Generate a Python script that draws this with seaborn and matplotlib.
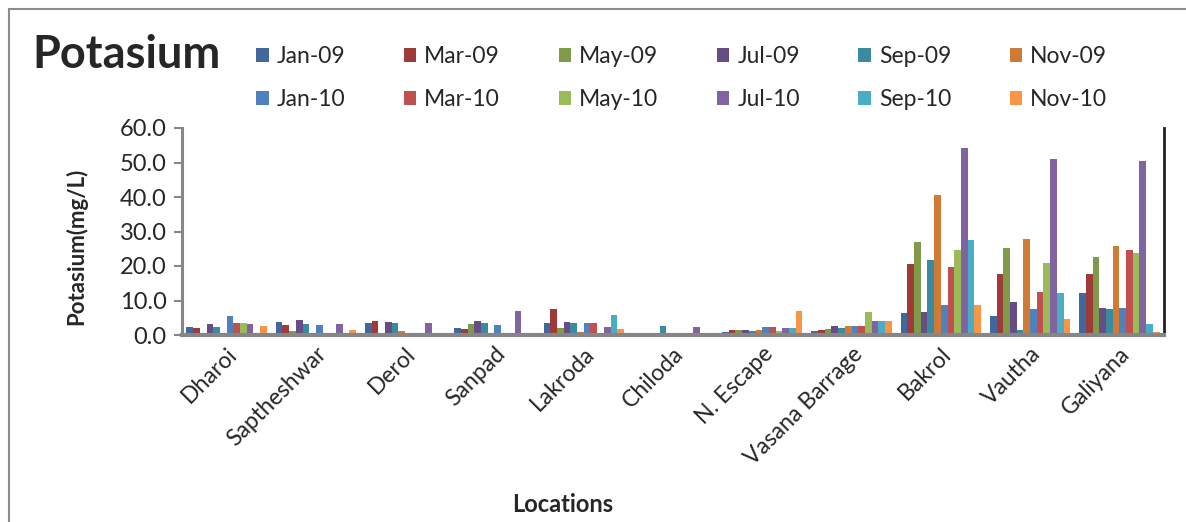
import numpy as np
import pandas as pd
import matplotlib
matplotlib.use("Agg")
import matplotlib.pyplot as plt
import seaborn as sns

locations = ["Dharoi", "Saptheshwar", "Derol", "Sanpad", "Lakroda", "Chiloda",
             "N. Escape", "Vasana Barrage", "Bakrol", "Vautha", "Galiyana"]
months = ["Jan-09", "Mar-09", "May-09", "Jul-09", "Sep-09", "Nov-09",
          "Jan-10", "Mar-10", "May-10", "Jul-10", "Sep-10", "Nov-10"]

jan09 = [2.3, 3.8, 3.6, 2.1, 3.6, 0.0, 1.0, 1.1, 6.3, 5.5, 12.2]
mar09 = [2.0, 2.9, 4.1, 1.8, 7.5, 0.0, 1.4, 1.5, 20.6, 17.6, 17.6]
may09 = [0.5, 1.1, 0.0, 3.3, 1.9, 0.0, 1.5, 1.6, 27.1, 25.2, 22.7]
jul09 = [3.2, 4.3, 3.9, 4.1, 3.7, 0.0, 1.5, 2.5, 6.7, 9.7, 7.7]
sep09 = [2.4, 3.3, 3.5, 3.5, 3.4, 2.7, 1.3, 2.1, 21.6, 1.4, 7.4]
nov09 = [0.7, 0.7, 1.3, 0.5, 0.9, 0.0, 1.5, 2.7, 40.6, 27.7, 25.7]
jan10 = [5.6, 2.9, 0.0, 2.9, 3.6, 0.0, 2.3, 2.5, 8.8, 7.4, 7.9]
mar10 = [3.4, 0.0, 0.0, 0.0, 3.5, 0.0, 2.2, 2.7, 19.7, 12.5, 24.5]
may10 = [3.5, 0.0, 0.0, 0.0, 0.0, 0.0, 1.3, 6.7, 24.6, 20.8, 23.8]
jul10 = [3.3, 3.2, 3.5, 7.1, 2.3, 2.4, 2.0, 4.0, 54.1, 51.0, 50.5]
sep10 = [0.7, 0.7, 0.0, 0.0, 5.8, 0.0, 2.0, 4.0, 27.5, 12.2, 3.1]
nov10 = [2.6, 1.5, 0.0, 0.0, 1.7, 0.0, 7.0, 4.0, 8.8, 4.7, 0.9]

series = [jan09, mar09, may09, jul09, sep09, nov09,
          jan10, mar10, may10, jul10, sep10, nov10]

colors = ["#41689C", "#9E3B39", "#7F9A48", "#664E85", "#3A8BA0", "#CF7B36",
          "#4F81BD", "#C0504D", "#9BBB59", "#8064A2", "#4BACC6", "#F79646"]

rows = []
for m, vals in zip(months, series):
    for loc, v in zip(locations, vals):
        rows.append({"Location": loc, "Month": m, "Potassium": v})
df = pd.DataFrame(rows)

sns.set_theme(style="white")
plt.rcParams["font.family"] = ["Lato", "DejaVu Sans"]

fig = plt.figure(figsize=(11.86, 5.22), dpi=100)
ax = fig.add_axes([182 / 1186, 1 - 335 / 522, (1164 - 182) / 1186, (335 - 128) / 522])

sns.barplot(data=df, x="Location", y="Potassium", hue="Month",
            hue_order=months, order=locations, palette=colors,
            width=0.9, ax=ax, legend=True, linewidth=0, saturation=1)

ax.set_ylim(0, 60)
ax.set_xlim(-0.5, len(locations) - 0.5)
ax.set_yticks(np.arange(0, 61, 10))
ax.set_yticklabels([f"{v:.1f}" for v in np.arange(0, 61, 10)], fontsize=17)
ax.tick_params(axis="y", direction="out", length=6, width=1.5, color="#868686", pad=5, left=True)
ax.tick_params(axis="x", length=0, pad=6)
for lbl in ax.get_xticklabels():
    lbl.set_rotation(45)
    lbl.set_ha("right")
    lbl.set_rotation_mode("anchor")
    lbl.set_fontsize(16.5)

for side in ["left", "bottom"]:
    ax.spines[side].set_color("#868686")
    ax.spines[side].set_linewidth(2.2)
ax.spines["bottom"].set_linewidth(3)
ax.spines["right"].set_color("#222222")
ax.spines["right"].set_linewidth(2)
ax.spines["top"].set_visible(False)

# axis titles placed in figure space
ax.set_xlabel("")
ax.set_ylabel("")
fig.text(563 / 1186, 1 - 505 / 522, "Locations", fontsize=17, fontweight="bold",
         ha="center", va="center")
fig.text(76 / 1186, 1 - 246 / 522, "Potasium(mg/L)", fontsize=16, fontweight="bold",
         ha="center", va="center", rotation=90)

# legend: two rows, six columns, filled row by row
handles, labels = ax.get_legend_handles_labels()
ax.get_legend().remove()
order = []
for c in range(6):
    order += [c, c + 6]
fig.legend([handles[i] for i in order], [labels[i] for i in order],
           ncol=6, loc="upper left", bbox_to_anchor=(256 / 1186, 1 - 46 / 522),
           frameon=False, fontsize=16.5, handlelength=0.55, handleheight=0.55,
           handletextpad=0.35, columnspacing=2.55, labelspacing=0.97,
           borderaxespad=0, borderpad=0)

fig.text(32 / 1186, 1 - 68 / 522, "Potasium", fontsize=32.5, fontweight="bold",
         va="baseline", ha="left")

# chart frame
fig.patches.append(matplotlib.patches.Rectangle(
    (9 / 1186, -0.1), 1.2, 1 - 9 / 522 + 0.1, transform=fig.transFigure,
    fill=False, edgecolor="#8C8C8C", linewidth=1.5))

fig.savefig("out.png", dpi=100)
